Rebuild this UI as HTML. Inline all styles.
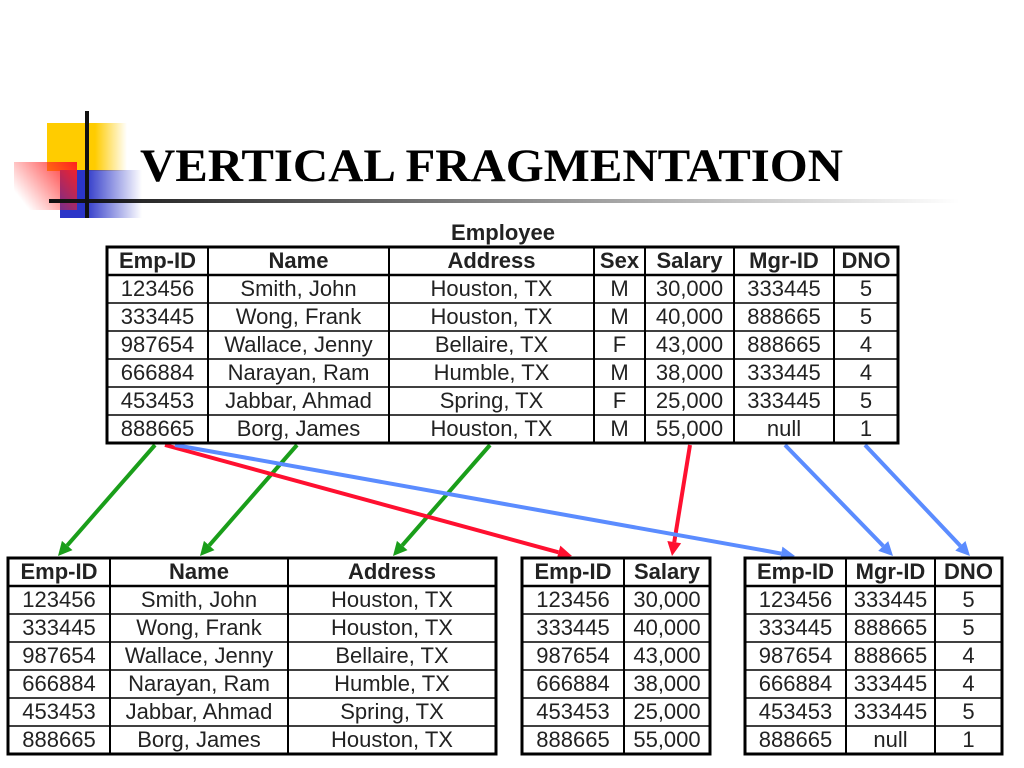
<!DOCTYPE html>
<html><head><meta charset="utf-8"><style>
body{margin:0;background:#fff;width:1024px;height:768px;overflow:hidden}
svg{display:block}
text{font-family:"Liberation Sans",sans-serif}
</style></head><body>
<svg id="s" width="1024" height="768" xmlns="http://www.w3.org/2000/svg">
<defs>
<linearGradient id="gy" x1="0" x2="1"><stop offset="0.6" stop-color="#ffcc00"/><stop offset="1" stop-color="#ffcc00" stop-opacity="0"/></linearGradient>
<linearGradient id="gr" x1="1" x2="0" y1="0" y2="0.6"><stop offset="0" stop-color="#ff2020"/><stop offset="1" stop-color="#ff2020" stop-opacity="0"/></linearGradient>
<linearGradient id="gb" x1="0" x2="1"><stop offset="0.3" stop-color="#2b35c8"/><stop offset="1" stop-color="#2b35c8" stop-opacity="0"/></linearGradient>
<linearGradient id="gl" x1="0" x2="1"><stop offset="0" stop-color="#111"/><stop offset="1" stop-color="#111" stop-opacity="0"/></linearGradient>
</defs>
<g>
<rect x="47" y="123" width="80" height="48" fill="url(#gy)"/>
<rect x="60" y="170" width="82" height="48" fill="url(#gb)"/>
<rect x="14" y="162" width="63" height="48" fill="url(#gr)"/>
<rect x="85" y="111" width="4" height="107" fill="#111"/>
<rect x="49" y="199" width="911" height="4" fill="url(#gl)"/>
</g>
<text x="140" y="181" font-weight="bold" font-size="47" fill="#000" textLength="703" lengthAdjust="spacingAndGlyphs" style="font-family:'Liberation Serif',serif">VERTICAL FRAGMENTATION</text>
<text x="503" y="240" text-anchor="middle" font-weight="bold" font-size="22" fill="#222">Employee</text>
<g id="arrows"></g>
<g id="tables"></g>
</svg>
<script>
const ns="http://www.w3.org/2000/svg";
const rows=[["123456","Smith, John","Houston, TX","M","30,000","333445","5"],
["333445","Wong, Frank","Houston, TX","M","40,000","888665","5"],
["987654","Wallace, Jenny","Bellaire, TX","F","43,000","888665","4"],
["666884","Narayan, Ram","Humble, TX","M","38,000","333445","4"],
["453453","Jabbar, Ahmad","Spring, TX","F","25,000","333445","5"],
["888665","Borg, James","Houston, TX","M","55,000","null","1"]];
const headers=["Emp-ID","Name","Address","Sex","Salary","Mgr-ID","DNO"];
function mk(tag,attrs,parent){const e=document.createElementNS(ns,tag);for(const k in attrs)e.setAttribute(k,attrs[k]);parent.appendChild(e);return e;}
function table(name,cols,colIdx,y0){
  const g=mk('g',{},document.getElementById('tables'));
  
  
  const rh=28,n=rows.length+1,y1=y0+rh*n;
  const all=[headers].concat(rows);
  all.forEach((r,ri)=>{colIdx.forEach((ci,k)=>{
    const t=mk('text',{x:(cols[k]+cols[k+1])/2,y:y0+ri*rh+21,'text-anchor':'middle','font-size':'22',fill:'#222','font-weight':ri==0?'bold':'normal'},g);
    
    
    t.textContent=r[ci];});});
  for(let i=1;i<n;i++)mk('line',{x1:cols[0],x2:cols[cols.length-1],y1:y0+i*rh,y2:y0+i*rh,stroke:'#000','stroke-width':i==1?2.5:1.5},g);
  for(let k=1;k<cols.length-1;k++)mk('line',{x1:cols[k],x2:cols[k],y1:y0,y2:y1,stroke:'#000','stroke-width':2},g);
  mk('rect',{x:cols[0],y:y0,width:cols[cols.length-1]-cols[0],height:y1-y0,fill:'none',stroke:'#000','stroke-width':3},g);
}
table('employee-table',[107,208,389,594,645,734,834,898],[0,1,2,3,4,5,6],247);
table('fragment-1-table',[8,110,288,496],[0,1,2],558);
table('fragment-2-table',[522,624,710],[0,4],558);
table('fragment-3-table',[745,846,935,1002],[0,5,6],558);
const arrows=[[155,445,58,556,'#1a9e1a'],[297,445,200,556,'#1a9e1a'],[490,445,393,556,'#1a9e1a'],
[165,445,572,556,'#ff1030'],[690,445,672,556,'#ff1030'],
[175,445,795,556,'#5b8cff'],[785,445,893,556,'#5b8cff'],[865,445,970,556,'#5b8cff']];
const ag=document.getElementById('arrows');
arrows.forEach(a=>{
  const [x1,y1,x2,y2,c]=a;const g=mk('g',{},ag);
  
  
  const dx=x2-x1,dy=y2-y1,L=Math.hypot(dx,dy),ux=dx/L,uy=dy/L,h=14,w=7;
  const bx=x2-ux*h,by=y2-uy*h;
  mk('line',{x1,y1,x2:bx,y2:by,stroke:c,'stroke-width':4},g);
  mk('polygon',{points:`${x2},${y2} ${bx-uy*w},${by+ux*w} ${bx+uy*w},${by-ux*w}`,fill:c},g);
});
</script>
</body></html>
